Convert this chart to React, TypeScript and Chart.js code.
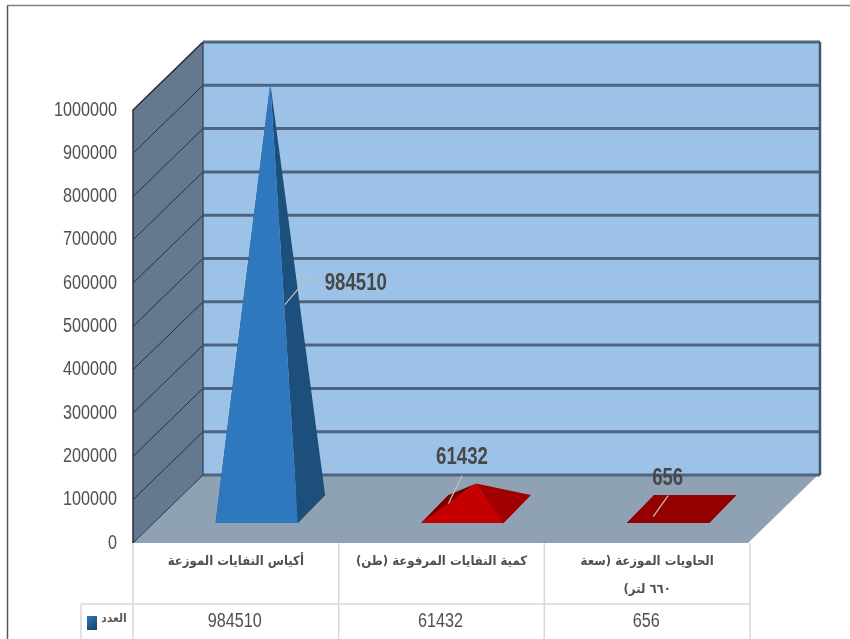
import React, { useEffect, useRef } from "react";
import { Chart, registerables, BarController, BarElement, LinearScale } from "chart.js";

const categories = [
  "أكياس النفايات الموزعة",
  "كمية النفايات المرفوعة (طن)",
  ["الحاويات الموزعة (سعة", "٦٦٠ لتر)"],
];
const seriesName = "العدد";
const seriesValues = [984510, 61432, 656];
const yMax = 1000000;
const yStep = 100000;

const FRONT_COLORS = ["#2F78BD", "#C40000", "#930000"];
const RIGHT_COLORS = ["#1D4F7C", "#A00000", "#930000"];
const LEFT_COLORS = ["#1D4F7C", "#7A0000", "#930000"];

// 3D projection of the chart box
const DEPTH_X = 70;
const DEPTH_Y = -68;
const PYR_DEPTH = 0.39; // share of the box depth taken by a pyramid base

const LATIN = '"Liberation Sans", sans-serif';
const ARABIC = '"DejaVu Sans Condensed", "DejaVu Sans", sans-serif';
const NARROW_X = 0.81; // horizontal squeeze of the tall digits
const TICK_RIGHT = 117;

// data-label placement relative to each mark
const LABEL_OFFSETS = [
  { x: 120, y: 166.5 },
  { x: 20.5, y: -59 },
  { x: 20.5, y: -64 },
];
const LEADER_OFFSETS = [
  [[49, 188], [72, 161], [82, 161]],
  [[7, -13], [20.5, -41]],
  [[6, -26], [21, -47]],
];

function poly(ctx: CanvasRenderingContext2D, pts: number[][], fill?: string, stroke?: string, lw = 1) {
  ctx.beginPath();
  pts.forEach((p, i) => (i ? ctx.lineTo(p[0], p[1]) : ctx.moveTo(p[0], p[1])));
  ctx.closePath();
  if (fill) {
    ctx.fillStyle = fill;
    ctx.fill();
  }
  if (stroke) {
    ctx.strokeStyle = stroke;
    ctx.lineWidth = lw;
    ctx.stroke();
  }
}

function line(ctx: CanvasRenderingContext2D, pts: number[][], color: string, lw = 1) {
  ctx.beginPath();
  pts.forEach((p, i) => (i ? ctx.lineTo(p[0], p[1]) : ctx.moveTo(p[0], p[1])));
  ctx.strokeStyle = color;
  ctx.lineWidth = lw;
  ctx.stroke();
}

function narrowText(ctx: CanvasRenderingContext2D, text: string, x: number, y: number) {
  ctx.save();
  ctx.translate(x, y);
  ctx.scale(NARROW_X, 1);
  ctx.textAlign = "center";
  ctx.textBaseline = "middle";
  ctx.fillText(text, 0, 0);
  ctx.restore();
}

class PyramidElement extends BarElement {
  static id = "pyramid";
  draw(ctx: CanvasRenderingContext2D) {
    const { x, y, base, width } = this as any;
    const o = (this as any).options;
    const idx = (this as any).$context?.dataIndex ?? 0;
    const cx = x + DEPTH_X / 2 - 0.5;
    const cy = base + DEPTH_Y / 2;
    const hw = width / 2;
    const dx = (DEPTH_X * PYR_DEPTH) / 2;
    const dy = (DEPTH_Y * 0.41) / 2;
    const fl = [cx - hw - dx, cy - dy];
    const fr = [cx + hw - dx, cy - dy];
    const br = [cx + hw + dx, cy + dy];
    const bl = [cx - hw + dx, cy + dy];
    const apex = [cx, cy - (base - y) + 1];
    ctx.save();
    poly(ctx, [fl, fr, br, bl], o.borderColor);
    poly(ctx, [fl, bl, apex], LEFT_COLORS[idx]);
    poly(ctx, [fr, br, apex], o.borderColor);
    poly(ctx, [fl, fr, apex], o.backgroundColor);
    ctx.restore();
  }
}

class PyramidController extends BarController {
  static id = "pyramid";
  static defaults = { ...(BarController as any).defaults, dataElementType: "pyramid" };
  static overrides = (BarController as any).overrides;
}

Chart.register(...registerables, PyramidElement as any, PyramidController as any);

const boxPlugin = {
  id: "box3d",
  beforeDatasetsDraw(chart: any) {
    const { ctx, chartArea: a, scales } = chart;
    const ys = scales.y;
    const L = a.left, R = a.right, T = a.top, B = a.bottom;
    const dx = DEPTH_X, dy = DEPTH_Y;
    ctx.save();
    // outer frame
    line(ctx, [[7.5, 639], [7.5, 5.5]], "#555555", 1.5);
    line(ctx, [[7, 5.5], [850, 5.5]], "#808080", 1.5);
    // back wall, side wall, floor
    poly(ctx, [[L + dx, T + dy], [R + dx, T + dy], [R + dx, B + dy], [L + dx, B + dy]], "#9CC3E7");
    poly(ctx, [[L, T], [L + dx, T + dy], [L + dx, B + dy], [L, B]], "#64798F");
    poly(ctx, [[L, B], [R - 2, B], [R + dx - 2, B + dy], [L + dx, B + dy]], "#8FA2B4");
    // gridlines from the y axis ticks
    ys.ticks.forEach((t: any) => {
      const py = ys.getPixelForValue(t.value);
      line(ctx, [[L, py], [L + dx, py + dy]], "#26323F", 1);
      line(ctx, [[L + dx, py + dy], [R + dx, py + dy]], "#4F6480", 3);
    });
    line(ctx, [[R + dx, T + dy], [R + dx, B + dy]], "#46586E", 2.5);
    line(ctx, [[L + dx, T + dy], [L + dx, B + dy]], "#3E4F64", 1.5);
    line(ctx, [[L, B], [L, T], [L + dx, T + dy]], "#2A2F36", 1.5);
    ctx.restore();
  },
  afterDatasetsDraw(chart: any) {
    const { ctx, chartArea: a, scales } = chart;
    const meta = chart.getDatasetMeta(0);
    const ds = chart.data.datasets[0];
    const xs = scales.x;
    const tableRow = 604;
    const bottom = chart.height;
    const band = (a.right - a.left) / categories.length;
    ctx.save();
    // leaders and data labels
    meta.data.forEach((el: any, i: number) => {
      const pts = LEADER_OFFSETS[i].map((p) => [el.x + p[0], el.y + p[1]]);
      line(ctx, pts, "#BFBFBF", 1.25);
      ctx.font = `bold 23px ${LATIN}`;
      ctx.fillStyle = "#484848";
      narrowText(ctx, String(ds.data[i]), el.x + LABEL_OFFSETS[i].x, el.y + LABEL_OFFSETS[i].y);
    });
    // data table
    const grid = "#D9D9D9";
    for (let i = 0; i <= categories.length; i++) {
      const px = a.left + band * i;
      line(ctx, [[px, a.bottom], [px, bottom]], grid, 1.5);
    }
    line(ctx, [[81, tableRow], [a.right, tableRow]], grid, 1.5);
    line(ctx, [[81, tableRow], [81, bottom]], grid, 1.5);
    ctx.font = `20px ${LATIN}`;
    ctx.fillStyle = "#505050";
    (ds.data as number[]).forEach((v, i) => {
      narrowText(ctx, String(v), xs.getPixelForValue(i) - 1, 621);
    });
    // legend key
    const g = ctx.createLinearGradient(87, 616, 97, 630);
    g.addColorStop(0, "#2F78BD");
    g.addColorStop(1, "#173F63");
    ctx.fillStyle = g;
    ctx.fillRect(87, 616, 10, 14);
    ctx.font = `bold 12px ${ARABIC}`;
    ctx.fillStyle = "#595959";
    ctx.textAlign = "center";
    ctx.textBaseline = "middle";
    ctx.fillText(ds.label, 114, 619);
    ctx.restore();
  },
};

export default function App() {
  const ref = useRef<HTMLCanvasElement>(null);
  useEffect(() => {
    const chart = new Chart(ref.current as any, {
      type: "pyramid" as any,
      data: {
        labels: categories as any,
        datasets: [
          {
            label: seriesName,
            data: seriesValues,
            backgroundColor: FRONT_COLORS,
            borderColor: RIGHT_COLORS,
            categoryPercentage: 0.4,
            barPercentage: 1,
            clip: false,
          } as any,
        ],
      },
      options: {
        responsive: false,
        animation: false,
        devicePixelRatio: 1,
        layout: { padding: { left: 0, top: 110, right: 100, bottom: 0 } },
        plugins: { legend: { display: false }, tooltip: { enabled: false } },
        scales: {
          x: {
            type: "category",
            grid: { display: false, drawTicks: false },
            border: { display: false },
            afterFit: (s: any) => {
              s.height = 96;
            },
            ticks: {
              padding: 5,
              maxRotation: 0,
              autoSkip: false,
              color: "#505050",
              font: { family: ARABIC, weight: "bold", size: 13, lineHeight: 2.15 },
            },
          },
          y: {
            type: "linear",
            min: 0,
            max: yMax,
            grid: { display: false, drawTicks: false },
            border: { display: false },
            afterFit: (s: any) => {
              s.width = 133;
              // tall, narrow digits: squeeze the axis labels about their right edge
              s.drawLabels = function (area: any) {
                const c = this.ctx;
                c.save();
                c.translate(TICK_RIGHT, 0);
                c.scale(NARROW_X, 1);
                c.translate(-TICK_RIGHT, 0);
                LinearScale.prototype.drawLabels.call(this, area);
                c.restore();
              };
            },
            ticks: {
              stepSize: yStep,
              padding: 16,
              color: "#505050",
              font: { family: LATIN, size: 20 },
              callback: (v: any) => String(v),
            },
          },
        },
      } as any,
      plugins: [boxPlugin as any],
    });
    return () => chart.destroy();
  }, []);
  return (
    <div style={{ position: "absolute", left: 0, top: 0, width: 850, height: 639, overflow: "hidden", background: "#fff" }}>
      <canvas ref={ref} width={850} height={639} style={{ display: "block", direction: "rtl", filter: "blur(0.5px)" }} />
    </div>
  );
}
